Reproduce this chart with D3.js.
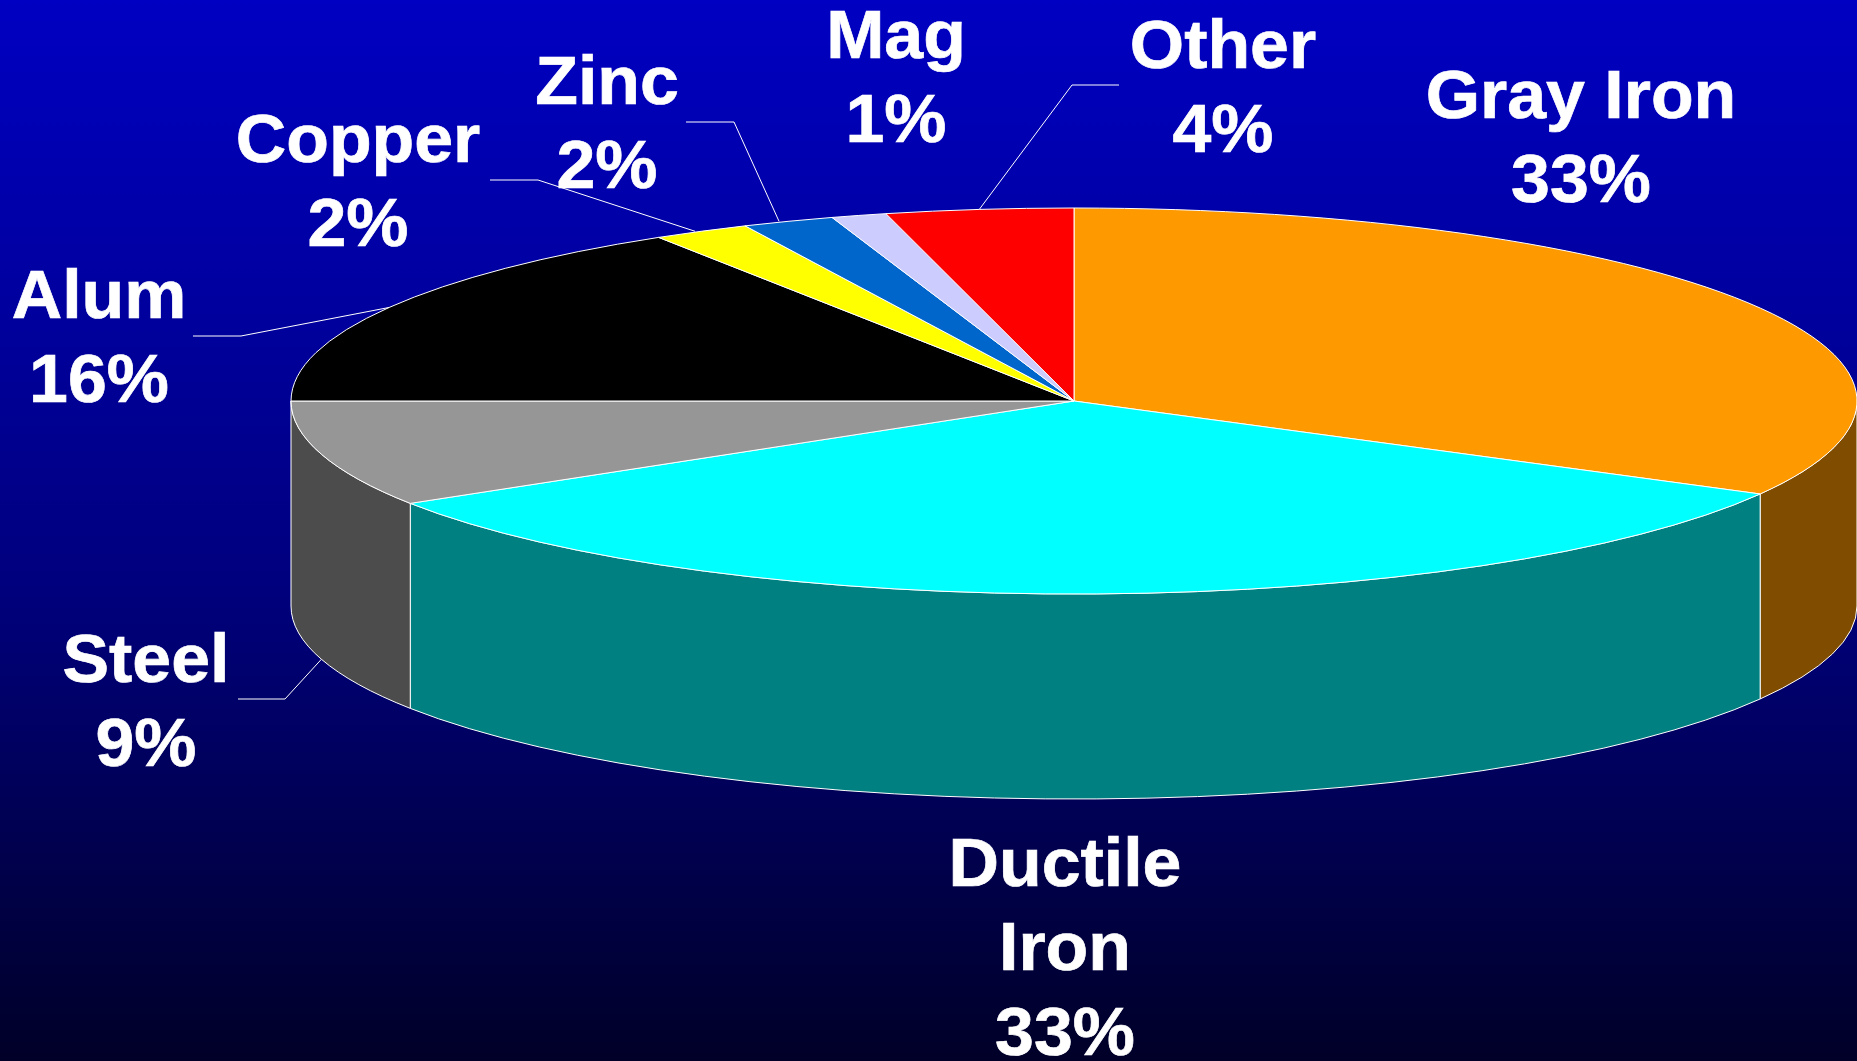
<!DOCTYPE html>
<html>
<head>
<meta charset="utf-8">
<title>Castings by material</title>
<script src="https://cdn.jsdelivr.net/npm/d3@7"></script>
<style>
    html, body { margin: 0; padding: 0; background: #000; overflow: hidden; }
    svg { display: block; }
    text { font-family: "Liberation Sans", Arial, sans-serif; font-weight: bold; fill: #fff; stroke: #fff; stroke-width: 0.7px; }
</style>
</head>
<body>
<svg id="chart" width="1857" height="1061"></svg>
<script>
var categories = ["Gray Iron", "Ductile Iron", "Steel", "Alum", "Copper", "Zinc", "Mag", "Other"]
var values = [33, 33.1, 8.9, 16.1, 2, 1.9, 1.14, 3.86]
var topColors = ["#ff9900", "#00ffff", "#969696", "#000000", "#ffff00", "#0066cc", "#ccccff", "#ff0000"]
var sideColors = ["#7f4c00", "#008080", "#4c4c4c", "#000000", "#7f7f00", "#003366", "#666680", "#7f0000"]
var labelLines = [["Gray Iron"], ["Ductile", "Iron"], ["Steel"], ["Alum"], ["Copper"], ["Zinc"], ["Mag"], ["Other"]]

// layout
var width = 1857, height = 1061
var cx = 1074, cy = 401, rx = 783, ry = 193, depth = 205
var fontSize = 68.5, fontStretch = 1.02, lineGap = 84.5
var labelX = [1581, 1065, 146, 99, 358, 607, 896, 1223]
var labelY = [118, 886, 682, 318, 162, 104, 58, 68]
// leader lines: text end and elbow, the third point comes from the slice
var leaderEnd = [null, null, [238, 699], [193, 336], [490, 180], [686, 122], null, [1119, 85]]
var leaderElbow = [null, null, [285, 699], [241, 336], [538, 180], [734, 122], null, [1072, 85]]
var leaderNudge = [0, 0, 0, 0, -6, -9, 0, 0]

var svg = d3.select("#chart")

// background
var grad = svg.append("defs").append("linearGradient")
    .attr("id", "bg")
    .attr("x1", 0).attr("y1", 0).attr("x2", 0).attr("y2", 1)
grad.append("stop").attr("offset", 0).attr("stop-color", "#0000c2")
grad.append("stop").attr("offset", 0.55).attr("stop-color", "#00007e")
grad.append("stop").attr("offset", 1).attr("stop-color", "#000028")
svg.append("rect")
    .attr("width", width)
    .attr("height", height)
    .attr("fill", "url(#bg)")

var pie = d3.pie().sort(null).value(function (d) { return d })
var slices = pie(values)

// point on the ellipse, angle clockwise from 12 o'clock
function rimPoint(angle, dy) {
    return [cx + rx * Math.sin(angle), cy - ry * Math.cos(angle) + (dy || 0)]
}

// side wall, only the front half of the rim can be seen
function wallPath(d) {
    var a = Math.max(d.startAngle, Math.PI / 2)
    var b = Math.min(d.endAngle, Math.PI * 1.5)
    if (a >= b) return null
    var p0 = rimPoint(a), p1 = rimPoint(b), p2 = rimPoint(b, depth), p3 = rimPoint(a, depth)
    return "M" + p0 + "A" + rx + "," + ry + " 0 0 1 " + p1 +
           "L" + p2 + "A" + rx + "," + ry + " 0 0 0 " + p3 + "Z"
}

svg.append("g")
    .selectAll("path")
    .data(slices)
    .join("path")
    .attr("d", wallPath)
    .attr("fill", function (d, i) { return sideColors[i] })
    .attr("stroke", "#fff")
    .attr("stroke-width", 1)

// top face, a normal pie squashed in y
var arc = d3.arc().innerRadius(0).outerRadius(rx)
svg.append("g")
    .attr("transform", "translate(" + cx + "," + cy + ") scale(1," + (ry / rx) + ")")
    .selectAll("path")
    .data(slices)
    .join("path")
    .attr("d", arc)
    .attr("fill", function (d, i) { return topColors[i] })
    .attr("stroke", "#fff")
    .attr("stroke-width", 1)
    .attr("vector-effect", "non-scaling-stroke")

// leader lines
svg.append("g")
    .selectAll("polyline")
    .data(slices.filter(function (d, i) { return leaderEnd[i] }))
    .join("polyline")
    .attr("points", function (d) {
        var i = d.index
        var mid = (d.startAngle + d.endAngle) / 2
        // steel sits on the front so its line goes to the bottom of the wall
        var anchor = rimPoint(mid, Math.cos(mid) < 0 ? depth : 0)
        anchor[0] += leaderNudge[i]
        return [leaderEnd[i], leaderElbow[i], anchor].join(" ")
    })
    .attr("fill", "none")
    .attr("stroke", "#fff")
    .attr("stroke-width", 1)

// labels
var label = svg.append("g")
    .selectAll("text")
    .data(slices)
    .join("text")
    .attr("text-anchor", "middle")
    .attr("font-size", fontSize)
    .attr("transform", function (d) {
        return "translate(" + labelX[d.index] + "," + labelY[d.index] + ") scale(" + fontStretch + ",1)"
    })

label.selectAll("tspan")
    .data(function (d) {
        var i = d.index
        return labelLines[i].concat(d3.format(".0f")(values[i]) + "%").map(function (t, k) {
            return { text: t, y: k * lineGap }
        })
    })
    .join("tspan")
    .attr("x", 0)
    .attr("y", function (d) { return d.y })
    .text(function (d) { return d.text })
</script>
</body>
</html>
